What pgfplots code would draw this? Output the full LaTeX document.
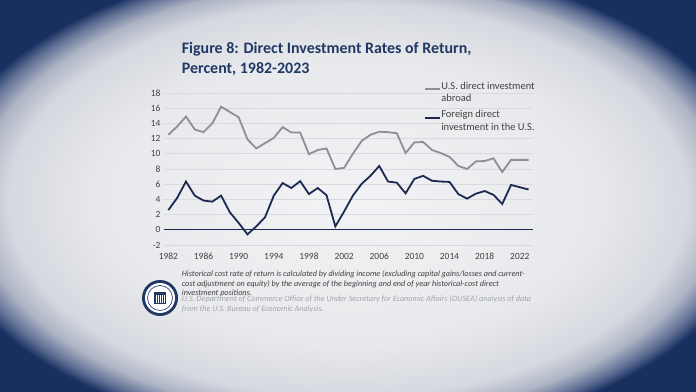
\documentclass[border=0pt]{standalone}
\usepackage{pgfplots}
\pgfplotsset{compat=1.18}
\usepackage{fontspec}
\setmainfont{Carlito}
\definecolor{navyline}{HTML}{1B2A52}
\definecolor{greyline}{HTML}{8D8F97}
\definecolor{titlec}{HTML}{1F3864}
\definecolor{labc}{HTML}{404040}
\definecolor{gridc}{HTML}{D9DADE}
\definecolor{srcc}{HTML}{A3A5AE}
\definecolor{bgc0}{HTML}{F3F3F5}
\definecolor{bgc1}{HTML}{E8E9EC}
\definecolor{bgc2}{HTML}{D5D8DF}
\definecolor{bgc3}{HTML}{AEB4C5}
\definecolor{bgc4}{HTML}{5E6E93}
\definecolor{bgnavy}{HTML}{17305F}
\pgfdeclareradialshading{vig}{\pgfpoint{0bp}{0bp}}{color(0bp)=(bgc0); color(15bp)=(bgc1); color(20.5bp)=(bgc2); color(22.5bp)=(bgc3); color(24bp)=(bgc4); color(25bp)=(bgnavy); color(50bp)=(bgnavy)}
\pgfplotstableread{
year abroad fdi
1982 12.5 2.6
1983 13.6 4.2
1984 14.9 6.35
1985 13.2 4.5
1986 12.85 3.85
1987 14.0 3.7
1988 16.2 4.5
1989 15.5 2.3
1990 14.8 0.9
1991 11.9 -0.6
1992 10.7 0.45
1993 11.4 1.65
1994 12.1 4.5
1995 13.5 6.15
1996 12.8 5.5
1997 12.8 6.4
1998 9.95 4.7
1999 10.5 5.5
2000 10.7 4.55
2001 8.0 0.45
2002 8.15 2.4
2003 10.0 4.5
2004 11.7 6.05
2005 12.5 7.1
2006 12.9 8.4
2007 12.85 6.35
2008 12.7 6.2
2009 10.1 4.8
2010 11.5 6.7
2011 11.55 7.1
2012 10.5 6.45
2013 10.1 6.35
2014 9.6 6.3
2015 8.4 4.7
2016 8.0 4.1
2017 9.0 4.75
2018 9.05 5.1
2019 9.4 4.6
2020 7.6 3.4
2021 9.2 5.9
2022 9.2 5.6
2023 9.2 5.3
}\datatable
\begin{document}
\begin{tikzpicture}
\fill[bgnavy] (0bp,0bp) rectangle (696bp,392bp);
\begin{scope}
\clip (0bp,0bp) rectangle (696bp,392bp);
\shade[shading=vig] (-66bp,-48bp) rectangle (762bp,432bp);
\end{scope}
\useasboundingbox (0bp,0bp) rectangle (696bp,392bp);
% title
\node[anchor=base west, inner sep=0pt, text=titlec, font=\fontsize{16}{19}\selectfont\bfseries] at (181.7bp,338.7bp) {Figure 8: Direct Investment Rates of Return,};
\node[anchor=base west, inner sep=0pt, text=titlec, font=\fontsize{16}{19}\selectfont\bfseries] at (181.7bp,318.7bp) {Percent, 1982-2023};
\begin{axis}[at={(164bp,147bp)}, anchor=south west, scale only axis,
  width=369bp, height=152bp,
  xmin=1981.5, xmax=2023.5, ymin=-2, ymax=18,
  xtick={1982,1986,...,2022}, ytick={-2,0,...,18},
  ymajorgrids, grid style={draw=gridc, line width=0.6bp},
  axis line style={draw=none}, major tick length=0pt,
  tick label style={font=\fontsize{9.5}{11}\selectfont, text=labc},
  /pgf/number format/assume math mode=true,
  /pgf/number format/1000 sep={},
  xticklabel style={yshift=-5bp},
  legend style={at={(0.696,1.09)}, anchor=north west, draw=none, fill=none,
    font=\fontsize{10.5}{12.5}\selectfont, text=labc,
    nodes={align=left, inner sep=0.5bp}, row sep=6.5bp},
  legend cell align=left,
  legend image code/.code={\draw[#1] (0bp,3.5bp) -- (15bp,3.5bp);},
  clip=false]
\addplot[navyline, line width=1.2bp, forget plot] coordinates {(1981.5,0) (2023.5,0)};
\addplot[greyline, line width=1.8bp] table[x=year, y=abroad] {\datatable};
\addlegendentry{U.S. direct investment\\abroad}
\addplot[navyline, line width=1.8bp] table[x=year, y=fdi] {\datatable};
\addlegendentry{Foreign direct\\investment in the U.S.}
\end{axis}
% footnote
\begin{scope}[every node/.style={anchor=base west, inner sep=0pt, font=\fontsize{8.2}{9}\selectfont\itshape}]
\node[text=labc] at (181.7bp,115bp) {Historical cost rate of return is calculated by dividing income (excluding capital gains/losses and current-};
\node[text=labc] at (181.7bp,105.7bp) {cost adjustment on equity) by the average of the beginning and end of year historical-cost direct};
\node[text=labc] at (181.7bp,96.3bp) {investment positions.};
\node[text=srcc] at (181.7bp,90bp) {U.S. Department of Commerce Office of the Under Secretary for Economic Affairs (OUSEA) analysis of data};
\node[text=srcc] at (181.7bp,80.7bp) {from the U.S. Bureau of Economic Analysis.};
\end{scope}
% seal
\fill[titlec] (160bp,94bp) circle (18bp);
\fill[white] (160bp,94bp) circle (15bp);
\draw[titlec, line width=0.6bp] (160bp,94bp) circle (12.5bp);
\fill[titlec] (154bp,88bp) rectangle (166bp,100bp);
\draw[white, line width=0.5bp] (156bp,89bp) -- (156bp,97bp) (158bp,89bp) -- (158bp,97bp) (160bp,89bp) -- (160bp,97bp) (162bp,89bp) -- (162bp,97bp) (164bp,89bp) -- (164bp,97bp);
\end{tikzpicture}
\end{document}
